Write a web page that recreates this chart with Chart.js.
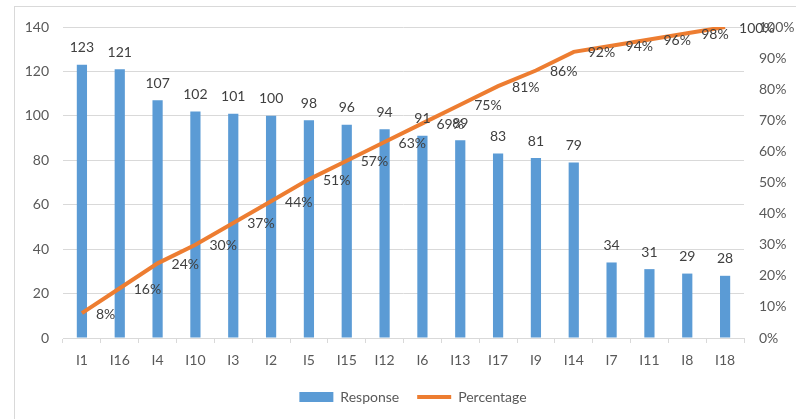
<!DOCTYPE html>
<html lang="en">
<head>
    <meta charset="UTF-8">
    <title>Response Pareto</title>
    <script src="https://cdn.jsdelivr.net/npm/chart.js@4.4.0/dist/chart.umd.min.js"></script>
    <style>
        html, body { margin: 0; padding: 0; background: #fff; }
        #wrap { position: relative; width: 796px; height: 419px; overflow: hidden; }
        #frame { position: absolute; left: 14px; top: 6px; width: 800px; height: 430px; border: 1px solid #d9d9d9; box-sizing: border-box; }
        #paretoChart { position: absolute; left: 0; top: 0; }
    </style>
</head>
<body>

<div id="wrap">
  <div id="frame"></div>
  <canvas id="paretoChart" width="796" height="419"></canvas>
</div>

<script>

// categories + values
const items = ["I1", "I16", "I4", "I10", "I3", "I2", "I5", "I15", "I12", "I6", "I13", "I17", "I9", "I14", "I7", "I11", "I8", "I18"];
const responses = [123, 121, 107, 102, 101, 100, 98, 96, 94, 91, 89, 83, 81, 79, 34, 31, 29, 28];
const percentages = [8, 16, 24, 30, 37, 44, 51, 57, 63, 69, 75, 81, 86, 92, 94, 96, 98, 100];

const leftTicks = [0, 20, 40, 60, 80, 100, 120, 140];
const rightTicks = [0, 10, 20, 30, 40, 50, 60, 70, 80, 90, 100];

const BLUE = '#5b9bd5';
const ORANGE = '#ed7d31';
const GRID = '#d9d9d9';
const TEXT = '#595959';
const FONT = 'Lato, "Open Sans", sans-serif';

// draws the value labels (bars: above, line: to the right of the point)
const valueLabels = {
    id: 'valueLabels',
    afterDatasetsDraw(chart) {
        const ctx = chart.ctx;
        ctx.save();
        ctx.font = '14px ' + FONT;
        ctx.fillStyle = '#404040';
        ctx.textBaseline = 'middle';

        ctx.textAlign = 'center';
        chart.getDatasetMeta(0).data.forEach((bar, i) => {
            ctx.fillText(responses[i], bar.x, bar.y - 17);
        });

        ctx.textAlign = 'left';
        chart.getDatasetMeta(1).data.forEach((pt, i) => {
            ctx.fillText(percentages[i] + '%', pt.x + 14, pt.y + 1);
        });
        ctx.restore();
    }
};

// legend in the original sits a bit right of center
const legendShift = {
    id: 'legendShift',
    afterLayout(chart) {
        chart.legend.left += 30;
    }
};

Chart.defaults.font.family = FONT;
Chart.defaults.font.size = 14;
Chart.defaults.color = TEXT;

const ctx = document.getElementById('paretoChart').getContext('2d');
new Chart(ctx, {
    type: 'bar',
    data: {
        labels: items,
        datasets: [
            {
                label: 'Response',
                data: responses,
                backgroundColor: BLUE,
                borderWidth: 0,
                yAxisID: 'y',
                order: 2,
                categoryPercentage: 1.0,
                barPercentage: 0.27,
                pointStyle: 'rect'
            },
            {
                type: 'line',
                label: 'Percentage',
                data: percentages,
                borderColor: ORANGE,
                backgroundColor: ORANGE,
                borderWidth: 4,
                pointRadius: 0,
                tension: 0,
                yAxisID: 'y2',
                order: 1,
                pointStyle: 'line'
            }
        ]
    },
    options: {
        responsive: false,
        animation: false,
        layout: {
            padding: { top: 27, left: 0, right: 0, bottom: 5 }
        },
        plugins: {
            tooltip: { enabled: false },
            legend: {
                position: 'bottom',
                labels: {
                    usePointStyle: true,
                    pointStyleWidth: 34,
                    boxHeight: 10,
                    padding: 18,
                    color: TEXT,
                    font: { size: 14 },
                    sort: (a, b) => a.datasetIndex - b.datasetIndex
                }
            }
        },
        scales: {
            x: {
                offset: true,
                grid: {
                    display: true,
                    drawOnChartArea: false,
                    offset: true,
                    tickLength: 5,
                    color: GRID
                },
                border: { color: GRID },
                ticks: { padding: 9, maxRotation: 0, autoSkip: false },
                afterFit: s => { s.height = 34; }
            },
            y: {
                position: 'left',
                min: 0,
                max: 140,
                afterBuildTicks: s => { s.ticks = leftTicks.map(v => ({ value: v })); },
                grid: { color: GRID, drawTicks: false },
                border: { display: false },
                ticks: { padding: 14 },
                afterFit: s => { s.width = 63; }
            },
            y2: {
                position: 'right',
                min: 0,
                max: 100,
                afterBuildTicks: s => { s.ticks = rightTicks.map(v => ({ value: v })); },
                grid: { drawOnChartArea: false, drawTicks: false },
                border: { display: false },
                ticks: { padding: 15, callback: v => v + '%' },
                afterFit: s => { s.width = 52; }
            }
        }
    },
    plugins: [valueLabels, legendShift]
});
</script>
</body>
</html>
